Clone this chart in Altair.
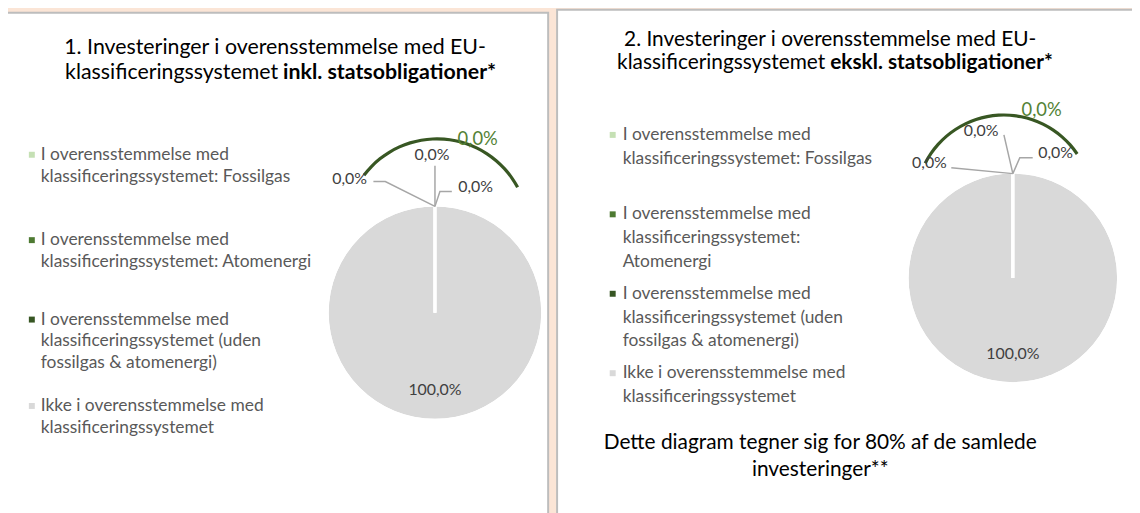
import math
import altair as alt
import pandas as pd

# ---------------- data ----------------
categories = [
    "I overensstemmelse med klassificeringssystemet: Fossilgas",
    "I overensstemmelse med klassificeringssystemet: Atomenergi",
    "I overensstemmelse med klassificeringssystemet (uden fossilgas & atomenergi)",
    "Ikke i overensstemmelse med klassificeringssystemet",
]
values_incl = [0.0, 0.0, 0.0, 100.0]   # chart 1 (inkl. statsobligationer)
values_excl = [0.0, 0.0, 0.0, 100.0]   # chart 2 (ekskl. statsobligationer)
arc_share = [0.0, 0.0]                 # green outlined series label per chart
slice_colors = ["#C5E0B4", "#4E7A32", "#375623", "#D9D9D9"]

legend_lines_1 = [
    ["I overensstemmelse med", "klassificeringssystemet: Fossilgas"],
    ["I overensstemmelse med", "klassificeringssystemet: Atomenergi"],
    ["I overensstemmelse med", "klassificeringssystemet (uden", "fossilgas & atomenergi)"],
    ["Ikke i overensstemmelse med", "klassificeringssystemet"],
]
legend_lines_2 = [
    ["I overensstemmelse med", "klassificeringssystemet: Fossilgas"],
    ["I overensstemmelse med", "klassificeringssystemet:", "Atomenergi"],
    ["I overensstemmelse med", "klassificeringssystemet (uden", "fossilgas & atomenergi)"],
    ["Ikke i overensstemmelse med", "klassificeringssystemet"],
]
title1_a = "1. Investeringer i overensstemmelse med EU-"
title1_b = "klassificeringssystemet"
title1_bold = "inkl. statsobligationer*"
title2_a = "2. Investeringer i overensstemmelse med EU-"
title2_b = "klassificeringssystemet"
title2_bold = "ekskl. statsobligationer*"
footer_lines = ["Dette diagram tegner sig for 80% af de samlede", "investeringer**"]

# ---------------- layout ----------------
W, H = 1132, 505
OFF = 8
FONT = "Lato"
XS = alt.Scale(domain=[OFF, OFF + W], range=[0, W], nice=False, zero=False)
YS = alt.Scale(domain=[OFF, OFF + H], range=[0, H], nice=False, zero=False)
CSCALE = alt.Scale(domain=categories, range=slice_colors)


def X(f="x"):
    return alt.X(f"{f}:Q", scale=XS, axis=None)


def Y(f="y"):
    return alt.Y(f"{f}:Q", scale=YS, axis=None)


def fmt_pct(v):
    return f"{v:.1f}".replace(".", ",") + "%"


def text_layer(rows, **style):
    df = pd.DataFrame(rows, columns=["x", "y", "t"])
    return alt.Chart(df).mark_text(font=FONT, baseline="middle", **style).encode(
        x=X(), y=Y(), text="t:N"
    )


layers = []

# panels
panels = pd.DataFrame({"x": [3, 561], "x2": [552, 1170], "y": [11, 8], "y2": [560, 560]})
layers.append(
    alt.Chart(panels).mark_rect(fill="white", stroke="#BDBDBD", strokeWidth=2).encode(
        x=X("x"), x2="x2:Q", y=Y("y"), y2="y2:Q"
    )
)


def pie_layers(values, cx, cy, r):
    df = pd.DataFrame({"cat": categories, "v": values, "o": list(range(len(values)))})
    base = alt.Chart(df).encode(
        theta=alt.Theta("v:Q", stack=True),
        order=alt.Order("o:Q"),
        x=alt.value(cx - OFF),
        y=alt.value(cy - OFF),
    )
    fill = base.mark_arc(radius=r).encode(
        color=alt.Color("cat:N", scale=CSCALE, legend=None)
    )
    edge = base.mark_arc(radius=r + 1.5, fill="white", fillOpacity=0, stroke="white", strokeWidth=3)
    lbl = (
        base.transform_filter("datum.v > 0")
        .transform_calculate(lbl="replace(format(datum.v, '.1f'), '.', ',') + '%'")
        .mark_text(radius=r * 0.73, font=FONT, fontSize=16, color="#404040")
        .encode(text="lbl:N")
    )
    return [fill, edge, lbl]


def deco_arc(cx, cy, r, a0_deg, a1_deg):
    a0 = 2 * math.pi + math.radians(a0_deg)
    a1 = 2 * math.pi + math.radians(a1_deg)
    return alt.Chart(pd.DataFrame({"k": [0]})).mark_arc(
        radius=r + 1.6, radius2=r - 1.6, color="#385723"
    ).encode(
        x=alt.value(cx - OFF), y=alt.value(cy - OFF),
        theta=alt.value(a0), theta2=alt.value(a1),
    )


# pie 1 and 2
layers += pie_layers(values_incl, 438, 313, 107)
layers += pie_layers(values_excl, 1020, 278, 105)

# decorative outlined arcs
layers.append(deco_arc(440, 230, 92, -53, 62))
layers.append(deco_arc(1011, 203, 89, -63, 56))

# leader lines
leaders = [
    ("a", [(376, 181), (388, 181), (438, 206)]),
    ("b", [(438, 165), (438, 206)]),
    ("c", [(438, 206), (443, 191), (455, 191)]),
    ("d", [(958, 167), (1020, 173)]),
    ("e", [(1011, 134), (1020, 173)]),
    ("f", [(1020, 173), (1027, 157), (1040, 157)]),
]
lrows = []
for lid, pts in leaders:
    for i, (px, py) in enumerate(pts):
        lrows.append({"id": lid, "o": i, "x": px, "y": py})
layers.append(
    alt.Chart(pd.DataFrame(lrows)).mark_line(color="#A6A6A6", strokeWidth=1.5).encode(
        x=X(), y=Y(), detail="id:N", order="o:Q"
    )
)

# zero-share data labels (positions set by hand, texts from the data)
zero_pos_1 = [(352, 178), (435, 154), (479, 187)]
zero_pos_2 = [(936, 162), (988, 130), (1063, 152)]
zrows = []
for vals, pos in ((values_incl, zero_pos_1), (values_excl, zero_pos_2)):
    for v, (px, py) in zip(vals[:3], pos):
        zrows.append((px, py, fmt_pct(v)))
layers.append(text_layer(zrows, fontSize=16, color="#404040", align="center"))
layers.append(
    text_layer([(481, 138, fmt_pct(arc_share[0])), (1049, 109, fmt_pct(arc_share[1]))],
               fontSize=18.5, color="#548235", align="center")
)

# legends
def legend_rows(lines, tx, first_ys, step):
    rows = []
    for item, y0 in zip(lines, first_ys):
        for j, line in enumerate(item):
            rows.append((tx, y0 + j * step, line))
    return rows


leg1_y = [154, 240, 320, 407]
leg2_y = [134, 214, 294, 374]
layers.append(text_layer(legend_rows(legend_lines_1, 41, leg1_y, 22), fontSize=17.5, color="#595959", align="left"))
layers.append(text_layer(legend_rows(legend_lines_2, 627, leg2_y, 24), fontSize=17.5, color="#595959", align="left"))
mk = pd.DataFrame({
    "cat": categories * 2,
    "x": [32] * 4 + [617] * 4,
    "y": leg1_y + leg2_y,
})
layers.append(
    alt.Chart(mk).mark_square(size=36, opacity=1).encode(
        x=X(), y=Y(), color=alt.Color("cat:N", scale=CSCALE, legend=None)
    )
)

# titles
layers.append(text_layer([(277, 47, title1_a)], fontSize=21.5, color="#000000", align="center"))
layers.append(text_layer([(280, 72, title1_b)], fontSize=21.5, color="#000000", align="right"))
layers.append(text_layer([(285, 72, title1_bold)], fontSize=21.5, color="#000000", align="left", fontWeight="bold"))
layers.append(text_layer([(836, 38, title2_a)], fontSize=21, color="#000000", align="center"))
layers.append(text_layer([(831, 62, title2_b)], fontSize=21, color="#000000", align="right"))
layers.append(text_layer([(836, 62, title2_bold)], fontSize=21, color="#000000", align="left", fontWeight="bold"))

# footer
layers.append(text_layer([(826, 444, footer_lines[0]), (826, 472, footer_lines[1])], fontSize=21, color="#000000", align="center"))

chart = alt.layer(*layers).properties(
    width=W, height=H, background="#FBE5D6", padding=0,
    autosize=alt.AutoSizeParams(type="none"),
).configure_view(stroke=None)

chart.save("out.html", embed_options={"renderer": "svg", "actions": False})
